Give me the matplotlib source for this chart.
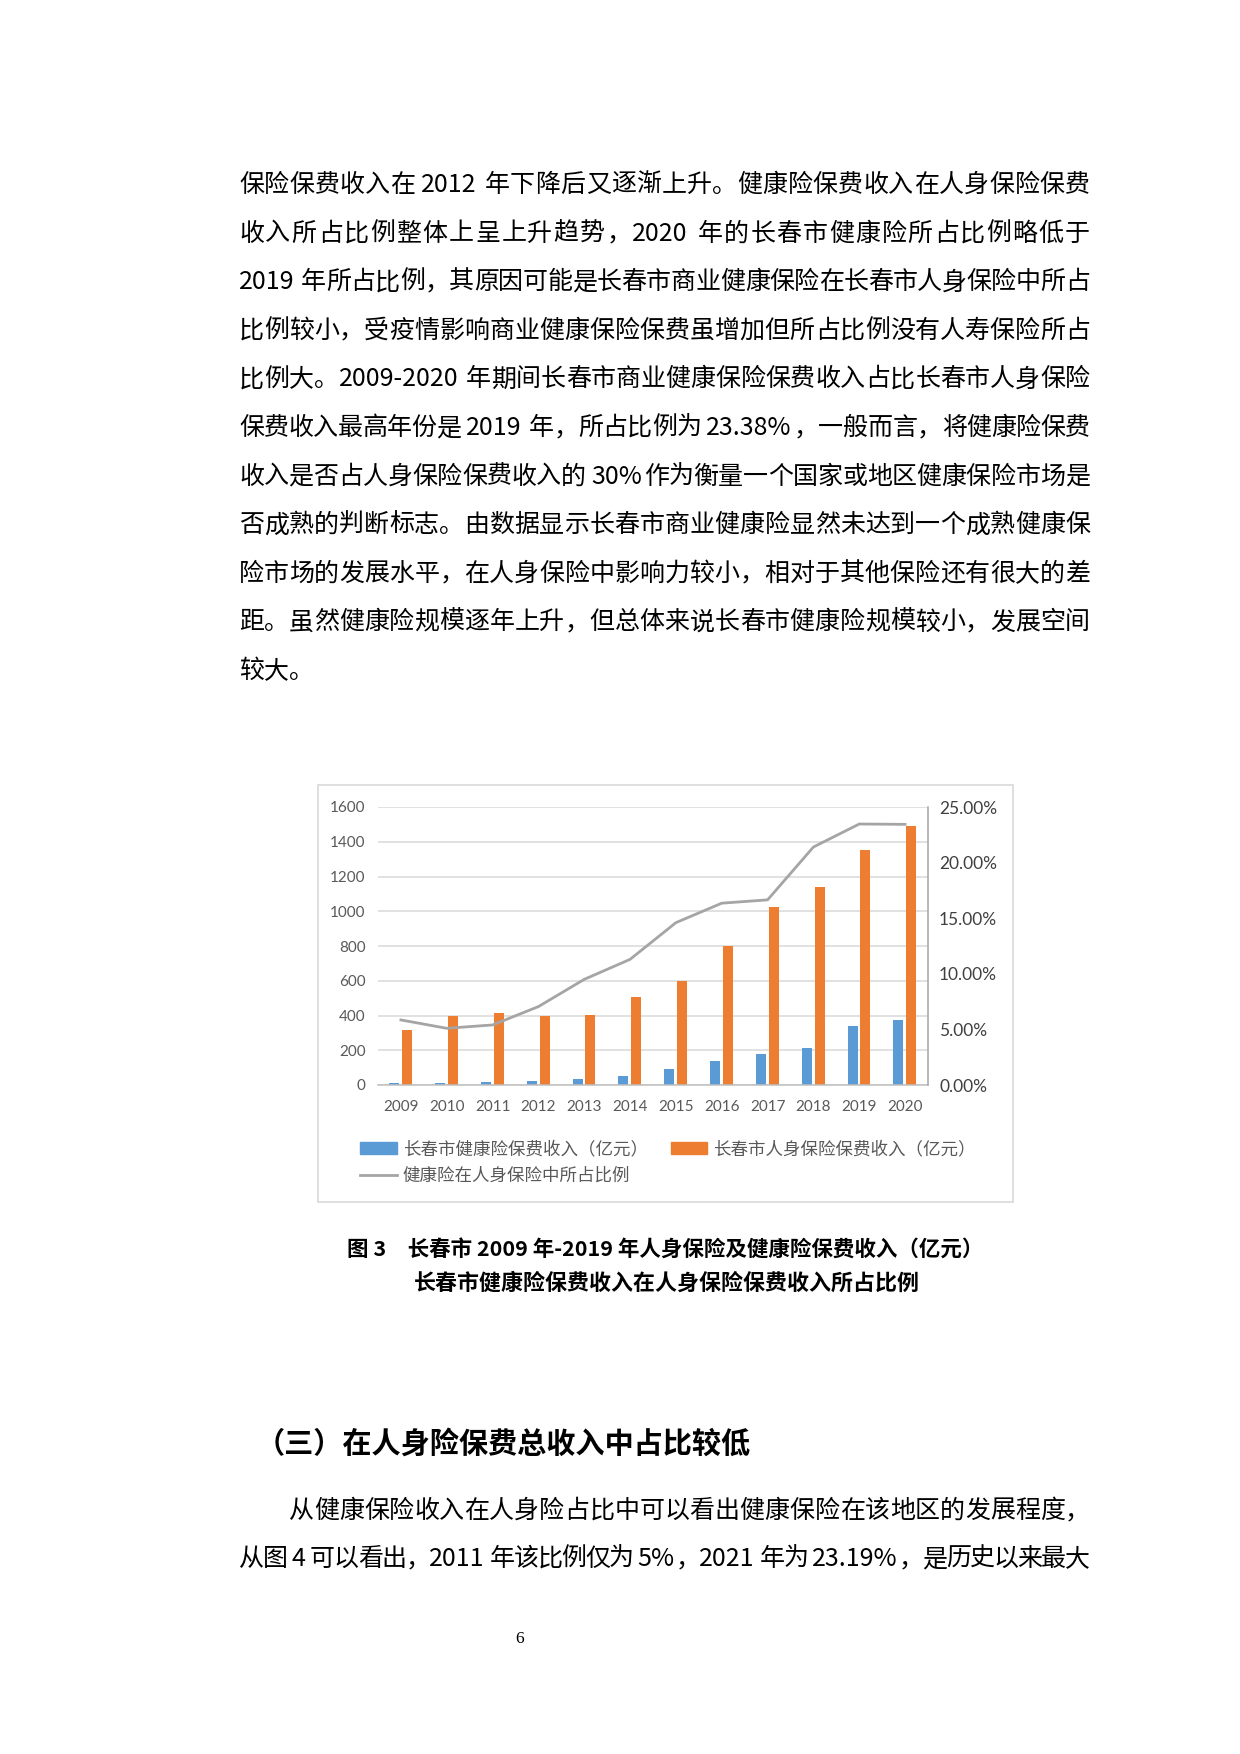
import re
import numpy as np
import matplotlib
matplotlib.use('Agg')
import matplotlib.pyplot as plt
from matplotlib.patches import Rectangle, Patch
from matplotlib.lines import Line2D
from matplotlib.ticker import FuncFormatter

W, H, DPI = 1240, 1754, 100
CJK = ['Noto Sans CJK SC', 'DejaVu Sans']
plt.rcParams['font.family'] = ['Lato', 'Noto Sans CJK SC', 'DejaVu Sans']

# --- chart data ---
years = ['2009', '2010', '2011', '2012', '2013', '2014',
         '2015', '2016', '2017', '2018', '2019', '2020']
health = [9, 10, 17, 21, 33, 50, 92, 140, 180, 211, 340, 375]
life = [318, 398, 417, 398, 403, 507, 599, 799, 1024, 1141, 1354, 1492]
share = [5.85, 5.10, 5.40, 7.05, 9.50, 11.30, 14.60, 16.35, 16.65, 21.40, 23.47, 23.44]

lbl_health = '长春市健康险保费收入（亿元）'
lbl_life = '长春市人身保险保费收入（亿元）'
lbl_share = '健康险在人身保险中所占比例'

caption = ['图 3　长春市 2009 年-2019 年人身保险及健康险保费收入（亿元）',
           '长春市健康险保费收入在人身保险保费收入所占比例']

para_top = [
    '保险保费收入在 2012 年下降后又逐渐上升。健康险保费收入在人身保险保费',
    '收入所占比例整体上呈上升趋势，2020 年的长春市健康险所占比例略低于',
    '2019 年所占比例，其原因可能是长春市商业健康保险在长春市人身保险中所占',
    '比例较小，受疫情影响商业健康保险保费虽增加但所占比例没有人寿保险所占',
    '比例大。2009-2020 年期间长春市商业健康保险保费收入占比长春市人身保险',
    '保费收入最高年份是 2019 年，所占比例为 23.38%，一般而言，将健康险保费',
    '收入是否占人身保险保费收入的 30%作为衡量一个国家或地区健康保险市场是',
    '否成熟的判断标志。由数据显示长春市商业健康险显然未达到一个成熟健康保',
    '险市场的发展水平，在人身保险中影响力较小，相对于其他保险还有很大的差',
    '距。虽然健康险规模逐年上升，但总体来说长春市健康险规模较小，发展空间',
    '较大。',
]
heading = '（三）在人身险保费总收入中占比较低'
para_bottom = [
    '从健康保险收入在人身险占比中可以看出健康保险在该地区的发展程度，',
    '从图 4 可以看出，2011 年该比例仅为 5%，2021 年为 23.19%，是历史以来最大',
]

fig = plt.figure(figsize=(W / DPI, H / DPI), dpi=DPI)
renderer = fig.canvas.get_renderer()


def fx(px):
    return px / W


def fy(py):
    return 1 - py / H


def text_line(s, x0, x1, yc, size, justify=True, weight='normal'):
    # lay one line out token by token so it fills x0..x1 like Word does
    em = size * DPI / 72
    toks = re.findall(r'[0-9A-Za-z.%\-]+| |.', s)
    widths = []
    for t in toks:
        if t == ' ':
            widths.append(0.22 * em)
        elif t.isascii():
            tmp = fig.text(0, 0, t, fontsize=size, family=CJK, weight=weight)
            widths.append(tmp.get_window_extent(renderer).width + 0.08 * em)
            tmp.remove()
        else:
            widths.append(em)
    gaps = len(toks) - 1
    extra = (x1 - x0 - sum(widths)) / gaps if (justify and gaps > 0) else 0
    base = yc + 0.36 * em
    x = x0
    for t, w in zip(toks, widths):
        if t != ' ':
            fig.text(fx(x), fy(base), t, fontsize=size, family=CJK, weight=weight,
                     ha='left', va='baseline', color='black')
        x += w + extra


# --- body text above the chart ---
for i, s in enumerate(para_top):
    text_line(s, 239, 1090, 183 + i * 48.6, 18, justify=(i < len(para_top) - 1))

# --- chart frame ---
fig.add_artist(Rectangle((fx(318), fy(1202)), (1013 - 318) / W, (1202 - 785) / H,
                         transform=fig.transFigure, fill=False, ec='#D9D9D9', lw=1.2))

ax = fig.add_axes([fx(378), fy(1085), 550 / W, 278 / H])
x = np.arange(len(years))
ax.bar(x - 0.145, health, 0.22, color='#5B9BD5', zorder=2)
ax.bar(x + 0.135, life, 0.22, color='#ED7D31', zorder=2)
ax.set_xlim(-0.5, len(years) - 0.5)
ax.set_ylim(0, 1600)
ax.set_yticks(range(0, 1601, 200))
ax.set_xticks(x)
ax.set_xticklabels(years)
ax.yaxis.grid(True, color='#D9D9D9', lw=1.1)
ax.set_axisbelow(True)
for side in ['top', 'left', 'right']:
    ax.spines[side].set_visible(False)
ax.spines['bottom'].set_color('#BFBFBF')
ax.spines['bottom'].set_linewidth(1.1)
ax.tick_params(axis='y', length=0, labelsize=11, labelcolor='#595959', pad=9)
ax.tick_params(axis='x', length=0, labelsize=11, labelcolor='#595959', pad=11)

ax2 = ax.twinx()
ax2.plot(x, share, color='#A5A5A5', lw=2, zorder=3)
ax2.set_ylim(0, 25)
ax2.set_yticks(range(0, 26, 5))
ax2.yaxis.set_major_formatter(FuncFormatter(lambda v, p: f'{v:.2f}%'))
for side in ['top', 'left', 'bottom']:
    ax2.spines[side].set_visible(False)
ax2.spines['right'].set_color('#A6A6A6')
ax2.spines['right'].set_linewidth(1.1)
ax2.tick_params(axis='y', length=0, labelsize=12.5, labelcolor='#404040', pad=8)

handles = [Patch(color='#5B9BD5'), Line2D([], [], color='#A5A5A5', lw=2), Patch(color='#ED7D31')]
fig.legend(handles, [lbl_health, lbl_share, lbl_life], ncol=2, loc='upper left',
           bbox_to_anchor=(fx(360), fy(1140)), frameon=False,
           handlelength=2.1, handleheight=0.65, handletextpad=0.35,
           columnspacing=1.3, labelspacing=0.5, borderpad=0, borderaxespad=0,
           labelcolor='#595959', prop={'family': CJK, 'size': 12.6})

# --- caption ---
fig.text(fx(665), fy(1250), caption[0], ha='center', va='center', fontsize=15.5,
         weight='bold', family=CJK)
fig.text(fx(667), fy(1283), caption[1], ha='center', va='center', fontsize=15.8,
         weight='bold', family=CJK)

# --- section heading and following paragraph ---
fig.text(fx(256), fy(1444), heading, ha='left', va='center', fontsize=21,
         weight='bold', family=CJK)
text_line(para_bottom[0], 289, 1090, 1509, 18)
text_line(para_bottom[1], 239, 1090, 1557, 18)

fig.text(fx(520), fy(1639), '6', ha='center', va='center', fontsize=12.5,
         family=['Liberation Serif', 'DejaVu Serif'])

fig.savefig('out.png', dpi=DPI, facecolor='white')
